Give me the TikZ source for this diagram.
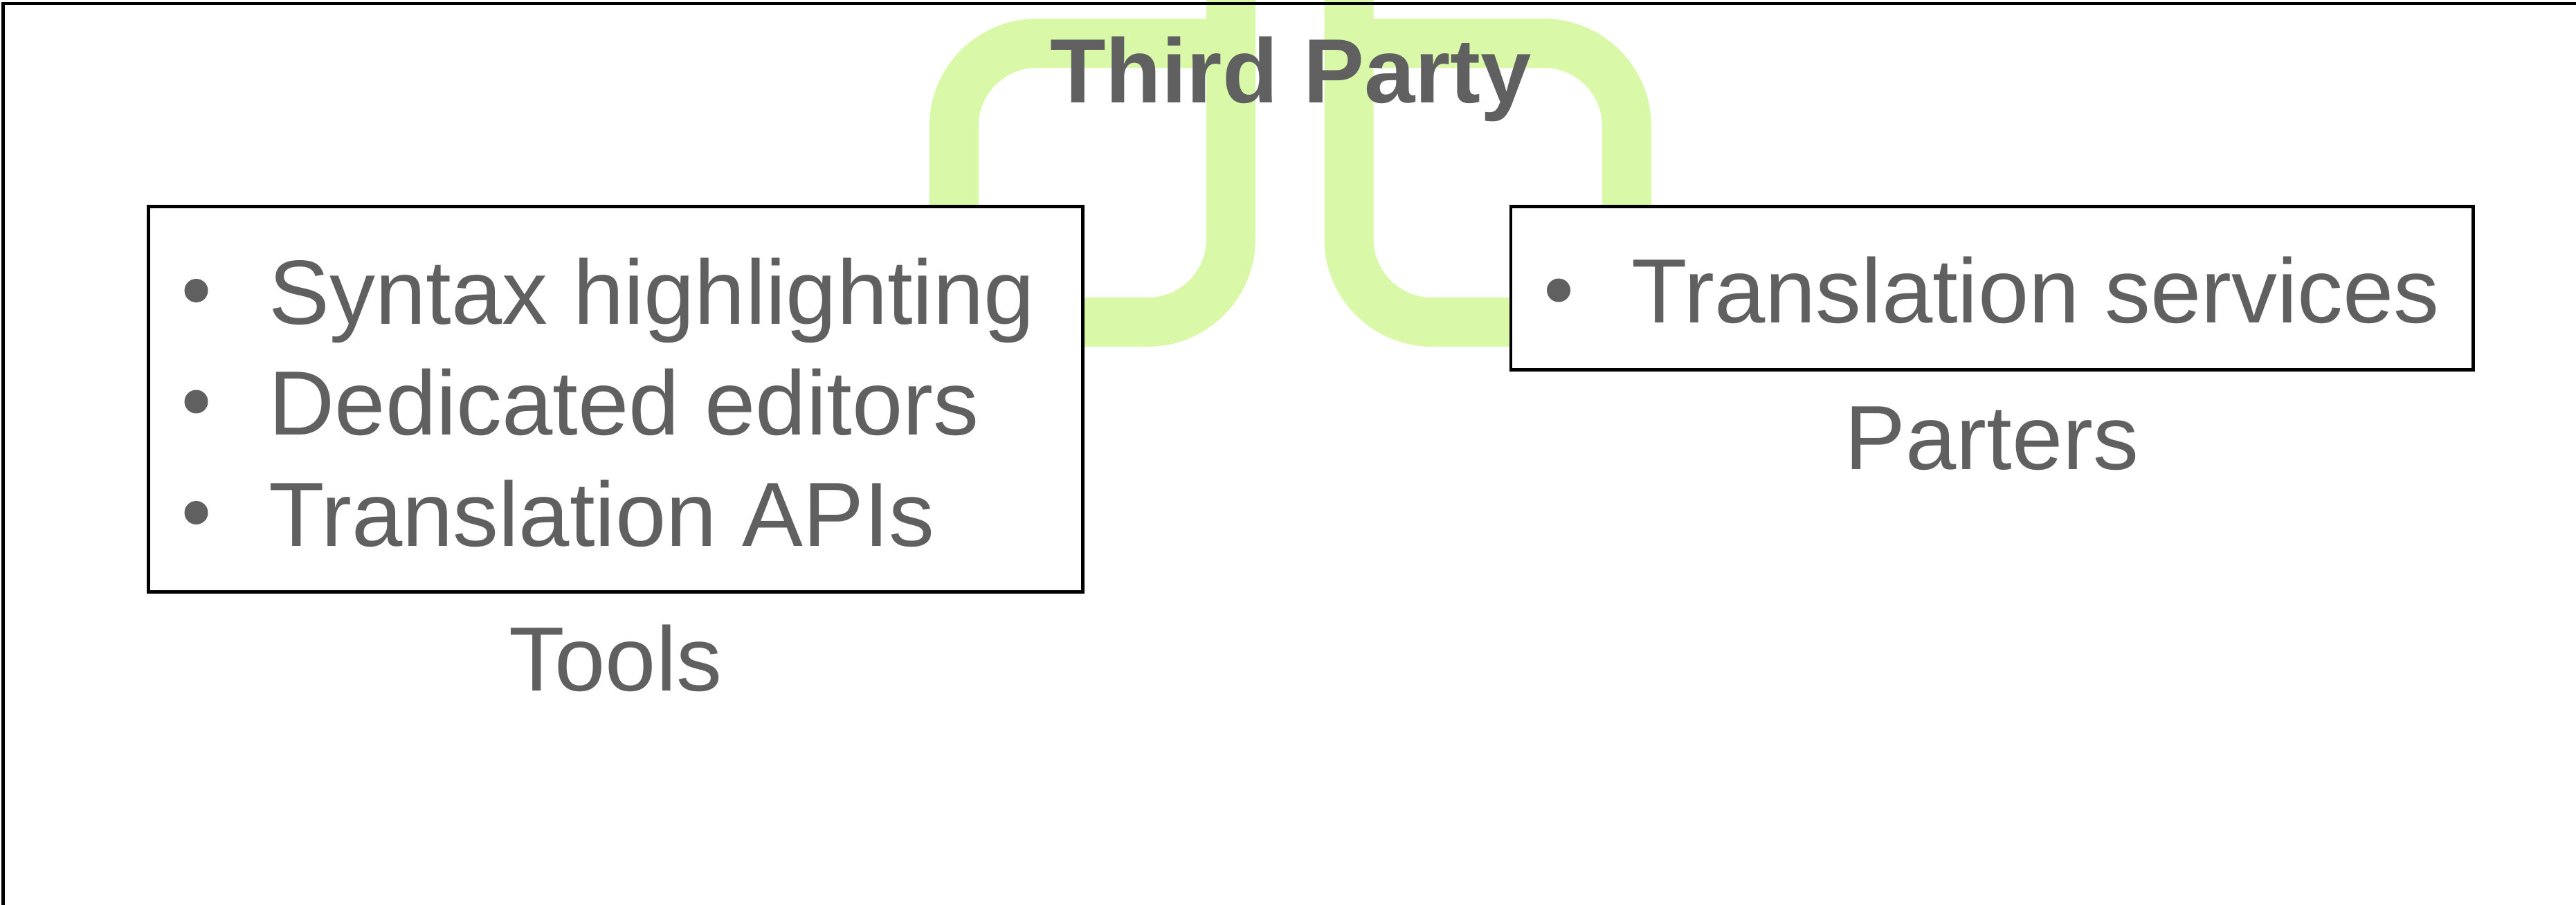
\documentclass[tikz,border=0pt]{standalone}
\usepackage{fontspec}
\setmainfont{Liberation Sans}
\usepackage{tikz}
\usetikzlibrary{positioning,backgrounds}
\usepackage{xcolor}
\definecolor{inkgray}{RGB}{96,96,96}
\definecolor{linkgreen}{RGB}{217,249,168}

\begin{document}
\begin{tikzpicture}[
    x=1cm, y=1cm,
    box/.style={draw=black, line width=1.3pt, fill=white, inner sep=0pt},
    item/.style={inner sep=0pt, text=inkgray, font=\fontsize{37.5}{45}\selectfont},
    lbl/.style={item, anchor=base},
    dot/.style={circle, fill=inkgray, inner sep=0pt, minimum size=0.34cm},
    link/.style={linkgreen, line width=0.71cm, rounded corners=1.2cm},
]
\useasboundingbox (0,0) rectangle (37.22,-13.07);
\clip (0,0) rectangle (37.22,-13.07);

% Boxes for the two groups.
\node[box, minimum width=13.50cm, minimum height=5.565cm] (tools) at (8.895,-5.77) {};
\node[box, minimum width=13.905cm, minimum height=2.36cm] (partners) at (28.78,-4.165) {};

% Hub ends above the sheet and the joints of the top band.
\coordinate (hubl) at (17.785,0.5);
\coordinate (hubr) at (19.49,0.5);
\coordinate (jl) at (17.785,-0.625);
\coordinate (jr) at (19.49,-0.625);

% Connectors, kept behind the boxes.
\begin{pgfonlayer}{background}
\draw[link] (jl) -| ([xshift=-1.885cm]tools.north east);
\draw[link] (jr) -| ([xshift=1.70cm]partners.north west);
\draw[link] (hubl) |- ([yshift=1.115cm]tools.east);
\draw[link] (hubr) |- ([yshift=-0.49cm]partners.west);
\end{pgfonlayer}

% Bullet list of tools.
\foreach \txt [count=\i] in {Syntax highlighting, Dedicated editors, Translation APIs} {
  \node[dot] (tdot\i) at (2.835,{-4.20-1.605*(\i-1)}) {};
  \node[item, anchor=base west] (titem\i) at (3.88,{-4.68-1.605*(\i-1)}) {\txt};
}

% Bullet list of partners.
\node[dot] (pdot1) at (22.52,-4.195) {};
\node[item, anchor=base west] (pitem1) at (23.57,-4.66) {Translation services};

% Group names.
\node[lbl] (toolsname) at ([yshift=-1.41cm]tools.south) {Tools};
\node[lbl] (partnersname) at ([yshift=-1.42cm]partners.south) {Parters};

% Title over the band.
\node[lbl, font=\fontsize{37.5}{45}\selectfont\bfseries] (third) at (18.65,-1.48) {Third Party};

% Outer frame.
\draw[black, line width=1.3pt] (0.045,-0.05) rectangle (38,-14);
\end{tikzpicture}
\end{document}
